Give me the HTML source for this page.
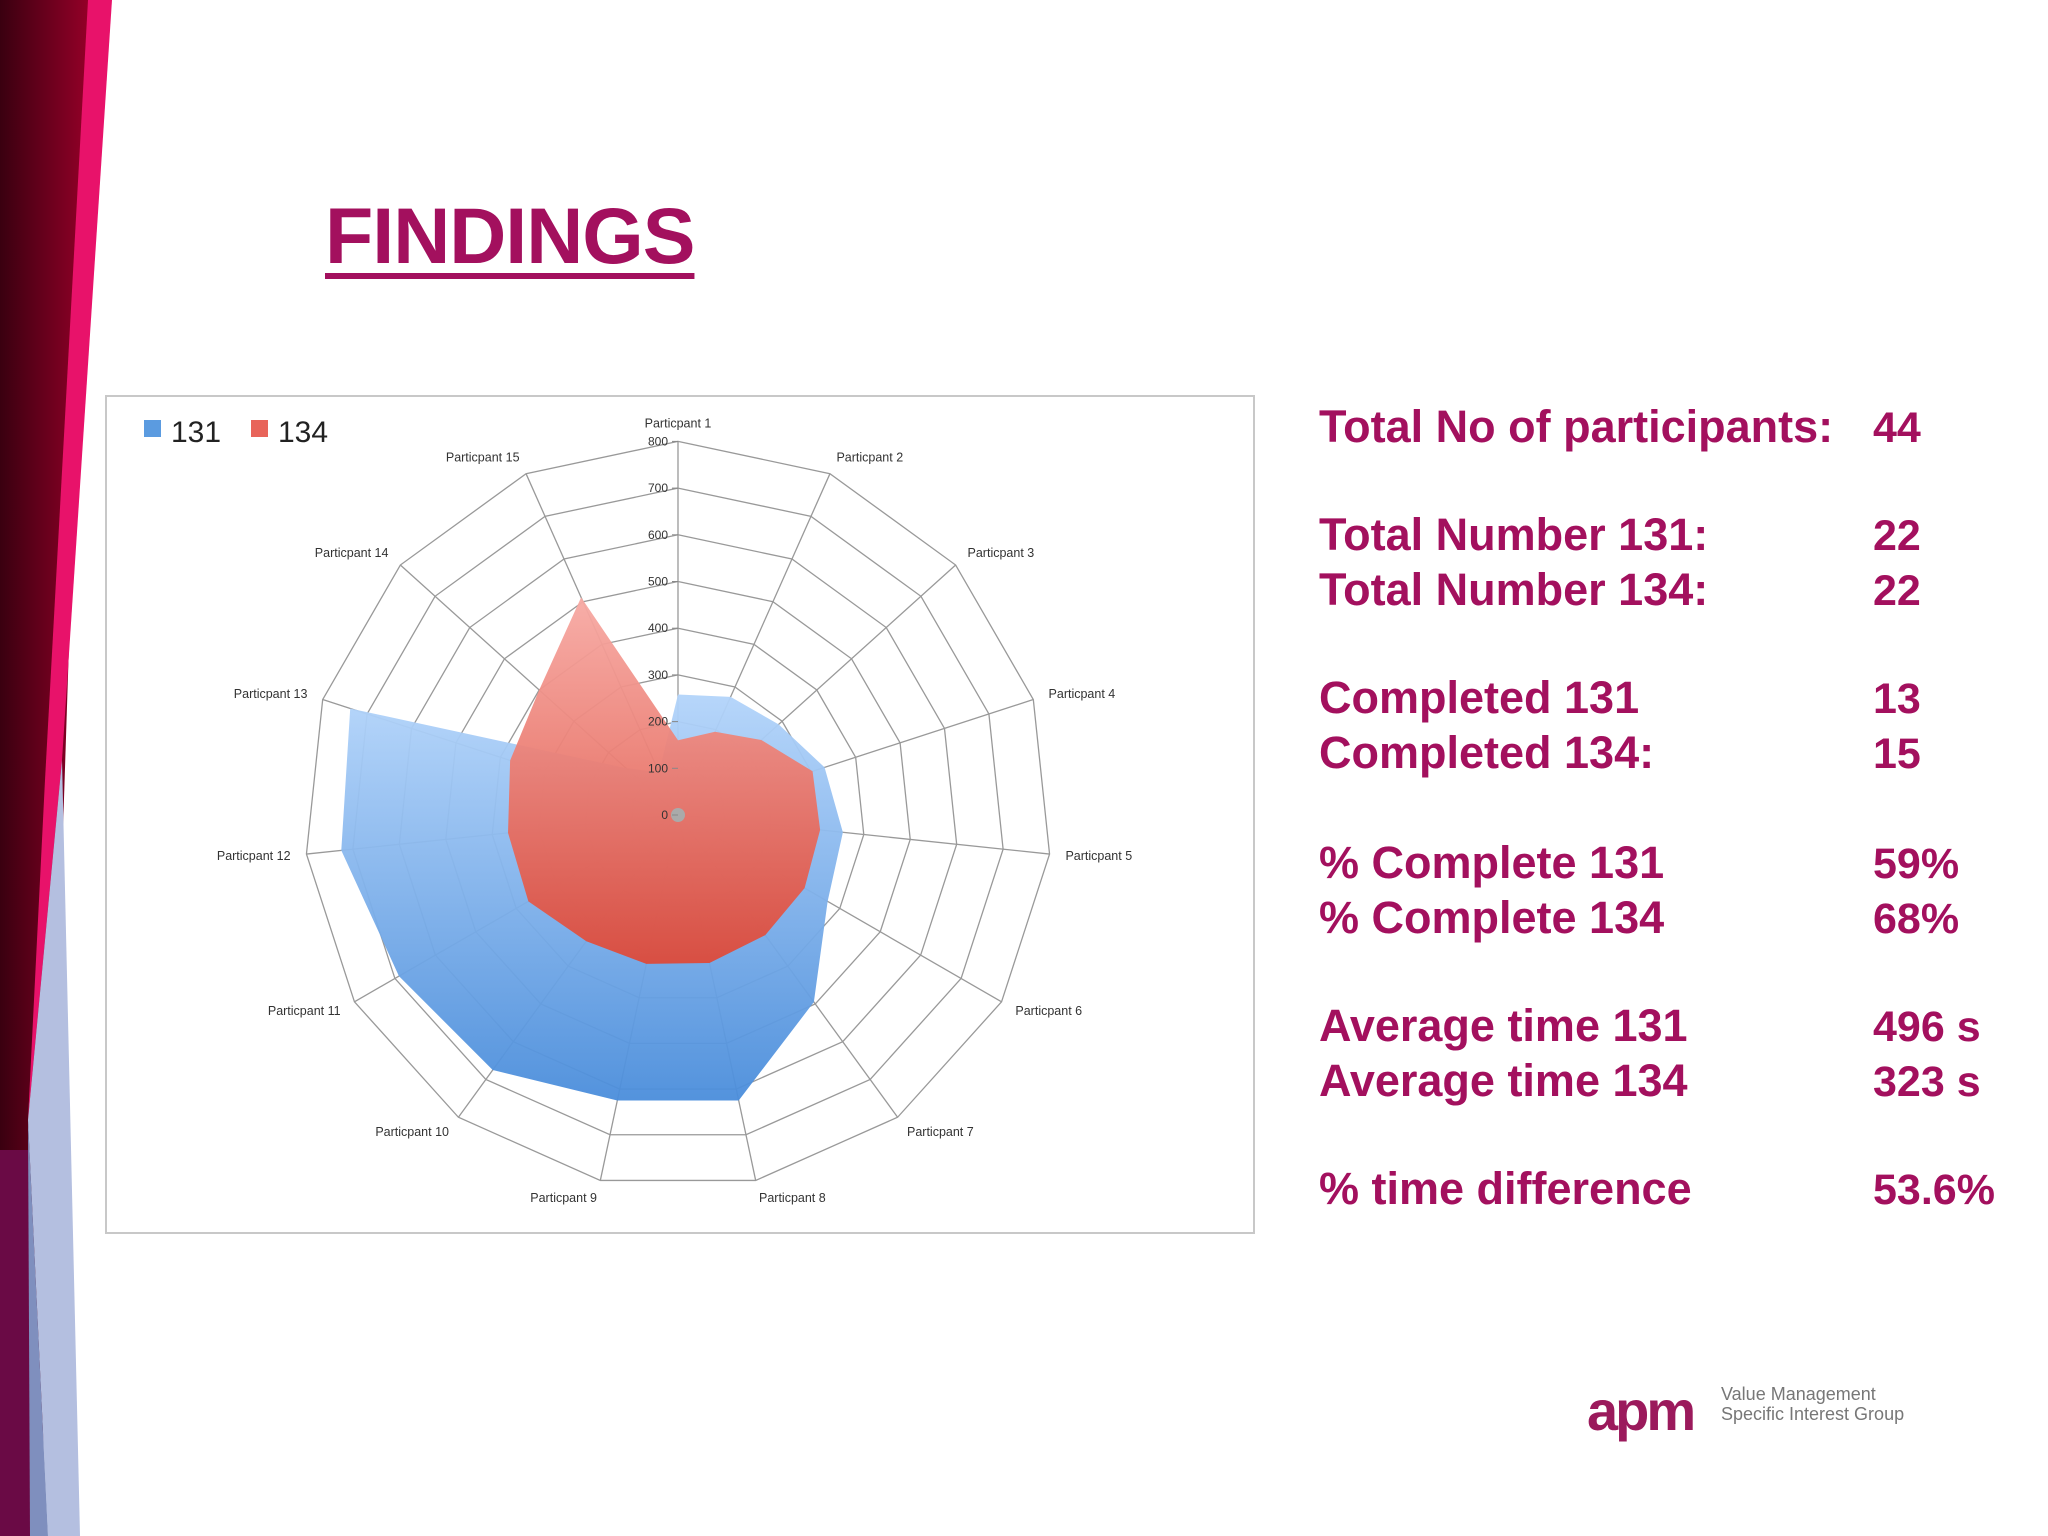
<!DOCTYPE html>
<html><head><meta charset="utf-8"><style>
html,body{margin:0;padding:0;background:#fff}
body{width:2048px;height:1536px;position:relative;overflow:hidden;font-family:"Liberation Sans",sans-serif}
.t{position:absolute;color:#a3105e;font-weight:bold;font-size:45px;white-space:nowrap;line-height:1}
</style></head><body>
<svg width="2048" height="1536" style="position:absolute;left:0;top:0">
<defs>
<linearGradient id="gm" x1="0" x2="1"><stop offset="0" stop-color="#3a0010"/><stop offset="1" stop-color="#950028"/></linearGradient>
<linearGradient id="gb" x1="0" y1="0" x2="0" y2="1"><stop offset="0" stop-color="#b3d4fa"/><stop offset="1" stop-color="#4a8ddb"/></linearGradient>
<linearGradient id="gr" x1="0" y1="0" x2="0" y2="1"><stop offset="0" stop-color="#f7aaa4"/><stop offset="1" stop-color="#dd4a3a"/></linearGradient>
</defs>
<g>
<polygon points="0,0 90,0 40,1536 0,1536" fill="url(#gm)"/>
<polygon points="0,1150 30,1150 32,1536 0,1536" fill="#6a0a45"/>
<polygon points="88,0 112,0 62,760 28,1120 45,780" fill="#e8126a"/>
<polygon points="62,760 80,1536 48,1536 28,1120" fill="#b4bfe0"/>
<polygon points="28,1120 48,1536 30,1536" fill="#7f8fbe"/>
</g>
<rect x="106" y="396" width="1148" height="837" fill="#fff" stroke="#c8c8c8" stroke-width="2"/>
<g id="radar"></g>
</svg>
<div class="t" style="left:325px;top:196px;font-size:79px;letter-spacing:-1px;text-decoration:underline;text-decoration-thickness:6px;text-underline-offset:10px">FINDINGS</div>
<div id="stats"></div>
<div style="position:absolute;left:1587px;top:1378px;font-size:56px;font-weight:bold;color:#9b1a5c;letter-spacing:-3px">apm</div>
<div style="position:absolute;left:1721px;top:1384px;font-size:18px;color:#777;line-height:20px">Value Management<br>Specific Interest Group</div>
<script>
const participants=["Particpant 1","Particpant 2","Particpant 3","Particpant 4","Particpant 5","Particpant 6","Particpant 7","Particpant 8","Particpant 9","Particpant 10","Particpant 11","Particpant 12","Particpant 13","Particpant 14","Particpant 15"];
const series131=[258,277,290,330,355,370,495,625,625,675,690,725,738,150,100];
const series134=[160,195,240,303,306,313,318,324,326,334,370,366,378,400,510];
const ticks=[0,100,200,300,400,500,600,700,800];
const maxV=800;
const NS="http://www.w3.org/2000/svg";
const g=document.getElementById('radar');
const cx=678,cy=815,R=373.6,n=participants.length;
function ang(i){return i*2*Math.PI/n;}
function pt(i,v){const r=v/maxV*R;return [cx+r*Math.sin(ang(i)),cy-r*Math.cos(ang(i))];}
function mk(tag,attrs){const e=document.createElementNS(NS,tag);for(const k in attrs)e.setAttribute(k,attrs[k]);g.appendChild(e);return e;}
ticks.forEach(t=>{if(t===0)return;const p=participants.map((_,i)=>pt(i,t).join(',')).join(' ');
const e=mk('polygon',{points:p,fill:'none',stroke:'#999','stroke-width':1.3});

});
participants.forEach((_,i)=>{const q=pt(i,maxV);const e=mk('line',{x1:cx,y1:cy,x2:q[0],y2:q[1],stroke:'#999','stroke-width':1.3});

});
function area(vals,fill,name){const e=mk('polygon',{points:vals.map((v,i)=>pt(i,v).join(',')).join(' '),fill:fill,opacity:0.95});

}
area(series131,'url(#gb)','series-131-area');
area(series134,'url(#gr)','series-134-area');
const c=mk('circle',{cx:cx,cy:cy,r:7,fill:'#aaa'});


ticks.forEach(t=>{const y=cy-t/maxV*R;
mk('line',{x1:cx-6,y1:y,x2:cx,y2:y,stroke:'#888'});
const e=mk('text',{x:cx-10,y:y+4,'text-anchor':'end','font-size':12,fill:'#333','font-family':'Liberation Sans, sans-serif'});
e.textContent=t;

});
participants.forEach((lab,i)=>{const s=Math.sin(ang(i)),co=Math.cos(ang(i));const q=pt(i,maxV);
const anchor=s>0.15?'start':(s<-0.15?'end':'middle');
const x=q[0]+s*16,y=q[1]-co*18+4;
const e=mk('text',{x:x,y:y,'text-anchor':anchor,'font-size':12.5,fill:'#333','font-family':'Liberation Sans, sans-serif'});
e.textContent=lab;

});
const lg=[['#5b9be0','131',144],['#e8645a','134',251]];
lg.forEach(l=>{const r=mk('rect',{x:l[2],y:420,width:17,height:17,fill:l[0]});


const t=mk('text',{x:l[2]+27,y:442,'font-size':30,fill:'#222','font-family':'Liberation Sans, sans-serif'});
t.textContent=l[1];

});
const statLabels=["Total No of participants:","Total Number 131:","Total Number 134:","Completed 131","Completed 134:","% Complete 131","% Complete 134","Average time 131","Average time 134","% time difference"];
const statValues=["44","22","22","13","15","59%","68%","496 s","323 s","53.6%"];
const baselines=[438,546,601,709,764,874,929,1037,1092,1200];
const st=document.getElementById('stats');
statLabels.forEach((l,i)=>{const a=document.createElement('div');a.className='t';a.style.left='1319px';a.style.top=(baselines[i]-34)+'px';a.textContent=l;


st.appendChild(a);
const b=document.createElement('div');b.className='t';b.style.left='1873px';b.style.top=(baselines[i]-31)+'px';b.style.fontSize='43px';b.textContent=statValues[i];


st.appendChild(b);});
</script>
</body></html>
